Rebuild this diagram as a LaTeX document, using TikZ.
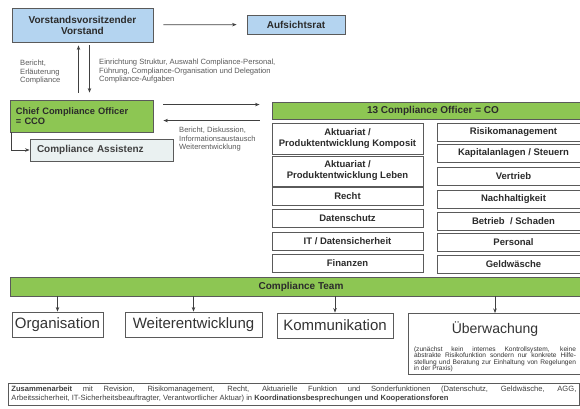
\documentclass[tikz,border=0pt]{standalone}
\usepackage{fontspec}
\setmainfont{Liberation Sans}
\usetikzlibrary{arrows.meta}
\definecolor{board}{HTML}{B4D4F0}
\definecolor{comp}{HTML}{8DC653}
\definecolor{assi}{HTML}{EAF1F1}
\definecolor{rim}{HTML}{5A5A5A}
\definecolor{ink}{HTML}{2B2B2B}

\begin{document}
\begin{tikzpicture}[
    x=1pt, y=-1pt, >={Stealth[length=4.5pt, width=3.5pt]},
    box/.style={draw=rim, line width=0.9pt, inner sep=1pt, text=ink,
        font=\fontsize{10}{11}\selectfont\bfseries, align=center},
    boardbox/.style={box, fill=board},
    compbox/.style={box, fill=comp},
    unit/.style={box, fill=white, minimum height=18,
        font=\fontsize{9.5}{11}\selectfont\bfseries},
    task/.style={draw=rim, line width=0.9pt, fill=white, minimum height=25,
        inner sep=2pt, text=black!80, font=\fontsize{15}{17}\selectfont},
    note/.style={inner sep=0pt, align=left, text=black!65,
        font=\fontsize{7.6}{8.6}\selectfont},
    link/.style={->, line width=0.7pt, black!75},
]
% grid in px of the 580x408 sheet, y runs downwards
\useasboundingbox (0,0) rectangle (580,408);
\clip (0,0) rectangle (580,408);

% board
\node[boardbox, minimum width=141, minimum height=34] (vor) at (82.5,25)
    {Vorstandsvorsitzender\\Vorstand};
\node[boardbox, minimum width=98, minimum height=19] (auf) at (296,24.5)
    {Aufsichtsrat};
\draw[link, shorten <=10pt, shorten >=10pt] (vor) -- (auf);

% chief compliance officer
\node[compbox, minimum width=143, minimum height=32, text width=131,
    align=left, font=\fontsize{9.3}{10.5}\selectfont\bfseries] (cco)
    at (81.5,116) {Chief Compliance Officer\\= CCO};
\node[box, fill=assi, minimum width=143, minimum height=22, text width=129,
    align=left, text=black!75] (assist) at (101.5,150) {Compliance Assistenz};
\draw[link] ([xshift=2pt]cco.south west) |- (assist.west);

% reporting lines board <-> CCO
\draw[link, shorten <=7pt, shorten >=3pt]
    ([xshift=-3pt]cco.north) -- ([xshift=-3pt]cco.north |- vor.south);
\draw[link, shorten <=3pt, shorten >=7pt]
    ([xshift=7pt]vor.south) -- ([xshift=7pt]vor.south |- cco.north);
\node[note, anchor=north west] (rep) at (20,60)
    {Bericht,\\Erläuterung\\Compliance};
\node[note, anchor=north west] (dir) at (99,59)
    {Einrichtung Struktur, Auswahl Compliance-Personal,\\
     Führung, Compliance-Organisation und Delegation\\
     Compliance-Aufgaben};

% compliance officers
\node[compbox, minimum width=322, minimum height=17] (co) at (433,110.5)
    {13 Compliance Officer = CO};
\draw[link, shorten <=10pt, shorten >=12pt]
    ([yshift=-5pt]cco.north east) -- ([yshift=-5pt]cco.north east -| co.west);
\draw[link, shorten <=12pt, shorten >=10pt]
    ([yshift=-21pt]cco.north east -| co.west) -- ([yshift=-21pt]cco.north east);
\node[note, anchor=north west] (talk) at (179,127)
    {Bericht, Diskussion,\\Informationsaustausch\\Weiterentwicklung};

% left column
\node[unit, minimum width=151, minimum height=31] (komposit) at (347.5,138.5)
    {Aktuariat /\\Produktentwicklung Komposit};
\node[unit, minimum width=151, minimum height=30] (leben) at (347.5,171)
    {Aktuariat /\\Produktentwicklung Leben};
\node[unit, minimum width=151] (recht) at (347.5,196.5) {Recht};
\node[unit, minimum width=151] (daten) at (347.5,218) {Datenschutz};
\node[unit, minimum width=151] (it) at (347.5,241) {IT / Datensicherheit};
\node[unit, minimum width=151] (fin) at (347.5,263.5) {Finanzen};

% right column
\node[unit, minimum width=153] (risiko) at (513.5,132.5) {Risikomanagement};
\node[unit, minimum width=153] (kapital) at (513.5,153.5)
    {Kapitalanlagen / Steuern};
\node[unit, minimum width=153] (vertrieb) at (513.5,176.5) {Vertrieb};
\node[unit, minimum width=153] (nachhalt) at (513.5,199.5) {Nachhaltigkeit};
\node[unit, minimum width=153] (betrieb) at (513.5,221) {Betrieb \ / Schaden};
\node[unit, minimum width=153] (personal) at (513.5,242.5) {Personal};
\node[unit, minimum width=153] (gw) at (513.5,264) {Geldwäsche};

% compliance team and its tasks
\node[compbox, minimum width=582, minimum height=19] (team) at (301,286.5)
    {Compliance Team};
\node[task, minimum width=91] (org) at (57.5,324.5) {Organisation};
\node[task, minimum width=137] (weiter) at (193.5,324.5) {Weiterentwicklung};
\node[task, minimum width=116] (komm) at (335,325.5) {Kommunikation};
\node[task, anchor=north, minimum width=174, align=center,
    font=\fontsize{14}{17}\selectfont] (uber) at (495,313)
    {\rule{0pt}{18pt}Überwachung\\[1pt]\parbox[t]{162pt}{\fontsize{6.6}{6.5}\selectfont
     (zunächst kein internes Kontrollsystem, keine\linebreak
     abstrakte Risikofunktion sondern nur konkrete Hilfe-\linebreak
     stellung und Beratung zur Einhaltung von Regelungen\linebreak
     in der Praxis)}};
\foreach \t in {org, weiter, komm, uber}
    \draw[link] (\t.north |- team.south) -- (\t.north);

% cooperation
\node[box, fill=white, anchor=north west, text width=565, align=justify,
    inner sep=3pt, text=black!75, font=\fontsize{7.6}{9}\selectfont] (collab)
    at (8,383)
    {\textbf{Zusammenarbeit} mit Revision, Risikomanagement, Recht, Aktuarielle
     Funktion und Sonderfunktionen (Datenschutz, Geldwäsche, AGG,\linebreak
     Arbeitssicherheit, IT-Sicherheitsbeauftragter, Verantwortlicher Aktuar)
     in \textbf{Koordinationsbesprechungen und Kooperationsforen}};

\end{tikzpicture}
\end{document}
